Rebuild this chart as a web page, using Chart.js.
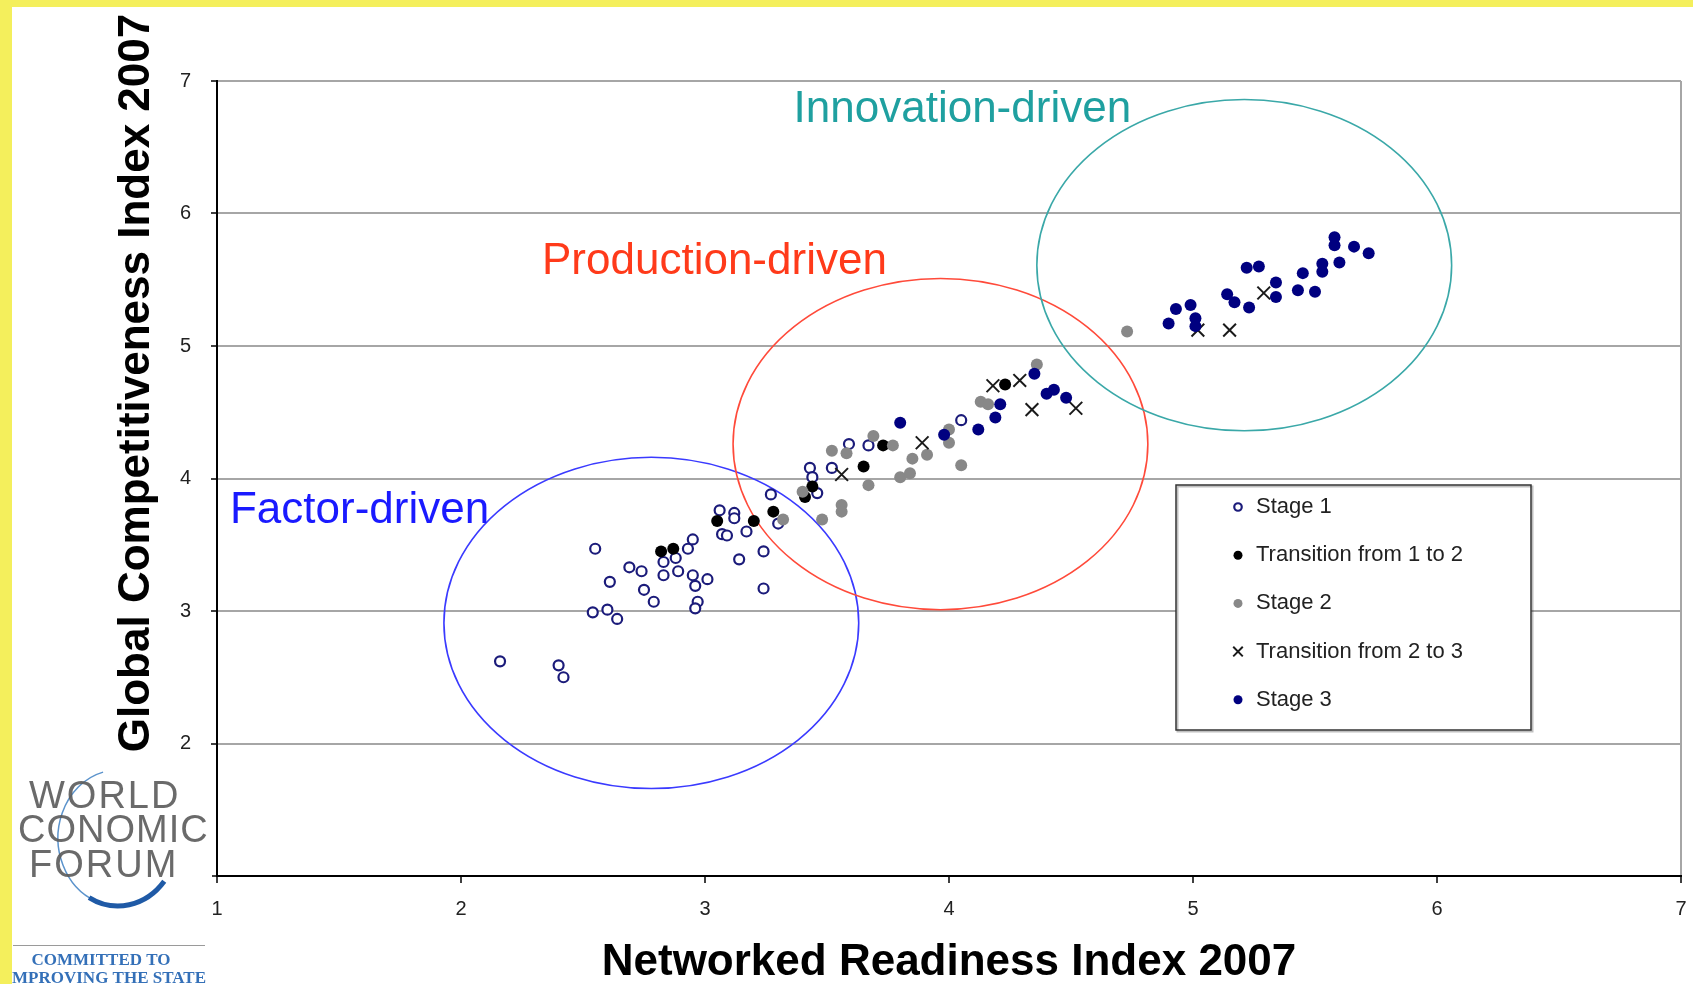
<!DOCTYPE html>
<html>
<head>
<meta charset="utf-8">
<title>NRI vs GCI 2007</title>
<script src="https://cdn.jsdelivr.net/npm/chart.js@4.4.1/dist/chart.umd.min.js"></script>
<style>
  html, body { margin: 0; padding: 0; background: #fff; }
  #wrap { width: 1693px; height: 984px; }
</style>
</head>
<body>
<div id="wrap"><canvas id="chart" width="1693" height="984"></canvas></div>
<script>
// axis ranges
const xMin = 1, xMax = 7;
const yMin = 1, yMax = 7;

// [Networked Readiness Index 2007, Global Competitiveness Index 2007]
const stage1 = [
    [2.16, 2.62], [2.40, 2.59], [2.42, 2.50], [2.55, 3.47], [2.61, 3.22], [2.54, 2.99],
    [2.60, 3.01], [2.64, 2.94], [2.69, 3.33], [2.74, 3.30], [2.75, 3.16], [2.79, 3.07],
    [2.83, 3.37], [2.83, 3.27], [2.88, 3.40], [2.89, 3.30], [2.93, 3.47], [2.95, 3.54],
    [2.95, 3.27], [2.96, 3.19], [3.01, 3.24], [2.97, 3.07], [2.96, 3.02], [3.06, 3.76],
    [3.12, 3.74], [3.12, 3.70], [3.07, 3.58], [3.09, 3.57], [3.17, 3.60], [3.14, 3.39],
    [3.24, 3.45], [3.24, 3.17], [3.27, 3.88], [3.30, 3.66], [3.43, 4.08], [3.44, 4.01],
    [3.46, 3.89], [3.59, 4.26], [3.67, 4.25], [3.52, 4.08], [4.05, 4.44]
];
const transition12 = [
    [2.82, 3.45], [2.87, 3.47], [3.05, 3.68], [3.20, 3.68], [3.28, 3.75],
    [3.41, 3.86], [3.44, 3.94], [3.65, 4.09], [3.73, 4.25], [4.23, 4.71]
];
const stage2 = [
    [3.32, 3.69], [3.40, 3.90], [3.48, 3.69], [3.56, 3.80], [3.56, 3.75], [3.52, 4.21],
    [3.58, 4.19], [3.69, 4.32], [3.77, 4.25], [3.67, 3.95], [3.80, 4.01], [3.84, 4.04],
    [3.85, 4.15], [3.91, 4.18], [4.00, 4.37], [4.00, 4.27], [4.05, 4.10], [4.13, 4.58],
    [4.16, 4.56], [4.36, 4.86], [4.73, 5.11]
];
const transition23 = [
    [3.56, 4.03], [3.89, 4.27], [4.18, 4.70], [4.29, 4.74], [4.34, 4.52],
    [4.52, 4.53], [5.02, 5.12], [5.15, 5.12], [5.29, 5.40]
];
const stage3 = [
    [3.80, 4.42], [3.98, 4.33], [4.12, 4.37], [4.19, 4.46], [4.21, 4.56], [4.35, 4.79],
    [4.40, 4.64], [4.43, 4.67], [4.48, 4.61], [4.90, 5.17], [4.93, 5.28], [4.99, 5.31],
    [5.01, 5.21], [5.01, 5.15], [5.14, 5.39], [5.17, 5.33], [5.22, 5.59], [5.27, 5.60],
    [5.23, 5.29], [5.34, 5.48], [5.34, 5.37], [5.43, 5.42], [5.45, 5.55], [5.50, 5.41],
    [5.53, 5.62], [5.53, 5.56], [5.58, 5.82], [5.58, 5.76], [5.60, 5.63], [5.66, 5.75],
    [5.72, 5.70]
];

// development-stage zones (data units): centre, radii, label anchor
const zoneNames = ['Factor-driven', 'Production-driven', 'Innovation-driven'];
const zoneCentres = [[2.78, 2.91], [3.965, 4.26], [5.21, 5.61]];
const zoneRadii = [[0.85, 1.25], [0.85, 1.25], [0.85, 1.25]];
const zoneLabelAt = [[1.053, 3.665], [2.332, 5.54], [3.363, 6.69]];
const zoneLineColors = ['#3a3aff', '#ff4a3a', '#3aa8a8'];
const zoneTextColors = ['#1a1aff', '#ff3a1a', '#1fa0a0'];

const FONT = '"Liberation Sans", Arial, Helvetica, sans-serif';
const toPoints = arr => arr.map(p => ({ x: p[0], y: p[1] }));

/**
 * 背景、黄色边框和 WEF 标志
 */
const frameAndLogo = {
    id: 'frameAndLogo',
    beforeDraw(chart) {
        const ctx = chart.ctx;
        ctx.save();
        ctx.fillStyle = '#fff';
        ctx.fillRect(0, 0, chart.width, chart.height);
        ctx.restore();
    },
    afterDraw(chart) {
        const ctx = chart.ctx;
        ctx.save();

        // y axis title, drawn by hand so it can sit above the plot top
        ctx.translate(137, 383);
        ctx.rotate(-Math.PI / 2);
        ctx.font = 'bold 44px ' + FONT;
        ctx.fillStyle = '#000';
        ctx.textAlign = 'center';
        ctx.textBaseline = 'middle';
        ctx.fillText('Global Competitiveness Index 2007', 0, 0);
        ctx.setTransform(1, 0, 0, 1, 0, 0);

        // logo
        ctx.fillStyle = '#fff';
        ctx.fillRect(12, 765, 200, 219);
        ctx.strokeStyle = '#5b93cc';
        ctx.lineWidth = 1.5;
        ctx.beginPath();
        ctx.ellipse(118, 838, 60, 68, 0, Math.PI * 0.62, Math.PI * 1.42);
        ctx.stroke();
        ctx.strokeStyle = '#1f5aa6';
        ctx.lineWidth = 5;
        ctx.beginPath();
        ctx.ellipse(118, 838, 60, 68, 0, Math.PI * 0.22, Math.PI * 0.66);
        ctx.stroke();

        ctx.font = '38px ' + FONT;
        ctx.fillStyle = 'rgba(90,90,90,0.9)';
        ctx.textBaseline = 'alphabetic';
        ctx.textAlign = 'left';
        ctx.letterSpacing = '2px';
        ctx.fillText('WORLD', 29, 808);
        ctx.fillText('FORUM', 29, 877);
        ctx.letterSpacing = '1px';
        ctx.fillText('CONOMIC', 18, 842);
        ctx.letterSpacing = '0px';

        ctx.strokeStyle = '#9a9a9a';
        ctx.lineWidth = 1;
        ctx.beginPath();
        ctx.moveTo(13, 945.5);
        ctx.lineTo(205, 945.5);
        ctx.stroke();

        ctx.font = 'bold 17px "Liberation Serif", "Times New Roman", serif';
        ctx.fillStyle = '#3470b8';
        ctx.textAlign = 'center';
        ctx.fillText('COMMITTED TO', 101, 965);
        ctx.textAlign = 'right';
        ctx.fillText('IMPROVING THE STATE', 206, 983);

        // yellow border
        ctx.fillStyle = '#f4ef5c';
        ctx.fillRect(0, 0, chart.width, 7);
        ctx.fillRect(0, 0, 12, chart.height);
        ctx.restore();
    }
};

/**
 * 画三个阶段的椭圆和标签
 */
const zonesPlugin = {
    id: 'zones',
    beforeDatasetsDraw(chart) {
        const { ctx, scales: { x, y } } = chart;
        ctx.save();
        zoneNames.forEach((name, i) => {
            const cx = x.getPixelForValue(zoneCentres[i][0]);
            const cy = y.getPixelForValue(zoneCentres[i][1]);
            const rx = x.getPixelForValue(zoneCentres[i][0] + zoneRadii[i][0]) - cx;
            const ry = cy - y.getPixelForValue(zoneCentres[i][1] + zoneRadii[i][1]);
            ctx.beginPath();
            ctx.ellipse(cx, cy, rx, ry, 0, 0, Math.PI * 2);
            ctx.strokeStyle = zoneLineColors[i];
            ctx.lineWidth = 1.6;
            ctx.stroke();

            ctx.font = '44px ' + FONT;
            ctx.fillStyle = zoneTextColors[i];
            ctx.textAlign = 'left';
            ctx.textBaseline = 'alphabetic';
            ctx.fillText(name, x.getPixelForValue(zoneLabelAt[i][0]), y.getPixelForValue(zoneLabelAt[i][1]));
        });
        ctx.restore();
    }
};

/**
 * 方框图例
 */
const boxLegend = {
    id: 'boxLegend',
    afterDatasetsDraw(chart) {
        const ctx = chart.ctx;
        const box = { x: 1176, y: 485, w: 355, h: 245 };
        ctx.save();
        ctx.fillStyle = '#fff';
        ctx.fillRect(box.x, box.y, box.w, box.h);
        ctx.strokeStyle = 'rgba(0,0,0,0.25)';
        ctx.lineWidth = 2;
        ctx.strokeRect(box.x + 1.5, box.y + 1.5, box.w, box.h);
        ctx.strokeStyle = '#333';
        ctx.lineWidth = 1.5;
        ctx.strokeRect(box.x, box.y, box.w, box.h);

        chart.data.datasets.forEach((ds, i) => {
            const cy = 507 + i * 48.2;
            ctx.fillStyle = ds.backgroundColor;
            ctx.strokeStyle = ds.borderColor;
            ctx.lineWidth = ds.borderWidth;
            Chart.helpers.drawPoint(ctx, {
                pointStyle: ds.pointStyle,
                radius: ds.pointRadius * 0.75,
                borderWidth: ds.borderWidth,
                rotation: 0
            }, 1238, cy);
            ctx.fillStyle = '#222';
            ctx.font = '22px ' + FONT;
            ctx.textAlign = 'left';
            ctx.textBaseline = 'middle';
            ctx.fillText(ds.label, 1256, cy);
        });
        ctx.restore();
    }
};

const gridGrey = '#a6a6a6';

new Chart(document.getElementById('chart'), {
    type: 'scatter',
    data: {
        datasets: [
            {
                label: 'Stage 1', data: toPoints(stage1), order: 5,
                pointStyle: 'circle', pointRadius: 5, borderWidth: 2.2,
                borderColor: '#1b1b7a', backgroundColor: '#fff'
            },
            {
                label: 'Transition from 1 to 2', data: toPoints(transition12), order: 4,
                pointStyle: 'circle', pointRadius: 6, borderWidth: 0,
                borderColor: '#000', backgroundColor: '#000'
            },
            {
                label: 'Stage 2', data: toPoints(stage2), order: 3,
                pointStyle: 'circle', pointRadius: 6, borderWidth: 0,
                borderColor: '#888', backgroundColor: '#888'
            },
            {
                label: 'Transition from 2 to 3', data: toPoints(transition23), order: 2,
                pointStyle: 'crossRot', pointRadius: 9, borderWidth: 2,
                borderColor: '#1a1a1a', backgroundColor: '#1a1a1a'
            },
            {
                label: 'Stage 3', data: toPoints(stage3), order: 1,
                pointStyle: 'circle', pointRadius: 6, borderWidth: 0,
                borderColor: '#000080', backgroundColor: '#000080'
            }
        ]
    },
    options: {
        responsive: false,
        animation: false,
        devicePixelRatio: 1,
        events: [],
        layout: { padding: { top: 81, right: 12, left: 0, bottom: 0 } },
        plugins: {
            legend: { display: false },
            tooltip: { enabled: false }
        },
        scales: {
            x: {
                type: 'linear',
                min: xMin,
                max: xMax,
                afterFit(scale) {
                    scale.height = 108;
                    scale.paddingLeft = 0;
                    scale.paddingRight = 0;
                },
                ticks: {
                    stepSize: 1,
                    color: '#222',
                    padding: 14,
                    font: { family: FONT, size: 20 }
                },
                grid: {
                    color: ctx => (ctx.tick && ctx.tick.value === xMax ? gridGrey : 'transparent'),
                    lineWidth: 2,
                    tickColor: '#000',
                    tickLength: 7,
                    tickWidth: 1.5
                },
                border: { color: '#000', width: 2 },
                title: {
                    display: true,
                    text: 'Networked Readiness Index 2007',
                    color: '#000',
                    font: { family: FONT, size: 44, weight: 'bold', lineHeight: 0.95 },
                    padding: { top: 0, bottom: 0 }
                }
            },
            y: {
                type: 'linear',
                min: yMin,
                max: yMax,
                afterFit(scale) {
                    scale.width = 217;
                    scale.paddingTop = 0;
                    scale.paddingBottom = 0;
                },
                ticks: {
                    stepSize: 1,
                    color: '#222',
                    padding: 20,
                    font: { family: FONT, size: 20 },
                    callback: v => (v === yMin ? '' : v)
                },
                grid: {
                    color: gridGrey,
                    lineWidth: 2,
                    tickColor: '#000',
                    tickLength: 6,
                    tickWidth: 1.5
                },
                border: { color: '#000', width: 2 }
            }
        }
    },
    plugins: [frameAndLogo, zonesPlugin, boxLegend]
});
</script>
</body>
</html>
